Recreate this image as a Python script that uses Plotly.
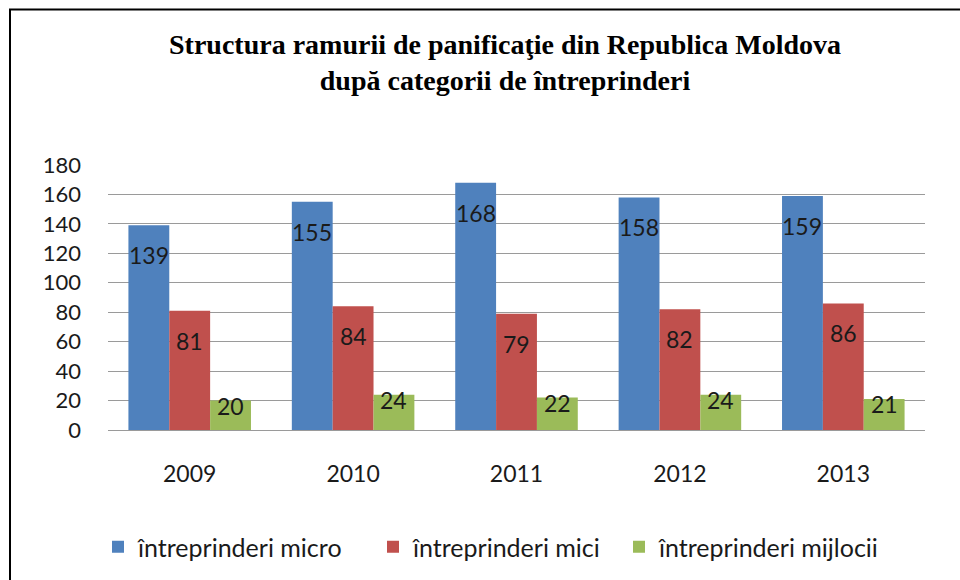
import plotly.graph_objects as go

years = ["2009", "2010", "2011", "2012", "2013"]
micro = [139, 155, 168, 158, 159]
mici = [81, 84, 79, 82, 86]
mijlocii = [20, 24, 22, 24, 21]
series_names = ["întreprinderi micro", "întreprinderi mici", "întreprinderi mijlocii"]
colors = ["#4F81BD", "#C0504D", "#9BBB59"]
y_ticks = [0, 20, 40, 60, 80, 100, 120, 140, 160, 180]

W, H = 960, 580
L, R, T, B = 108, 35, 165, 149
FONT = "Lato"
TXT = "#1a1a1a"

plot_h = H - T - B
plot_w = W - L - R

xpos = list(range(len(years)))
fig = go.Figure()
all_series = [micro, mici, mijlocii]
legend_ids = ["legend", "legend2", "legend3"]
legend_text_x = [132, 407, 653]
for name, vals, col, lg in zip(series_names, all_series, colors, legend_ids):
    fig.add_trace(go.Bar(x=xpos, y=vals, name=name, legend=lg,
                         marker=dict(color=col, line=dict(width=0))))

bar_w = 0.25
shifts = [-30, -30, -5]
for k, vals in enumerate(all_series):
    for i, v in enumerate(vals):
        fig.add_annotation(x=i + (k - 1) * bar_w, y=v, text=str(v), showarrow=False,
                           xref="x", yref="y", yshift=shifts[k],
                           font=dict(family=FONT, size=23, color=TXT))

legend_cfg = {}
for lg, tx in zip(legend_ids, legend_text_x):
    legend_cfg[lg] = dict(orientation="h", x=(tx - 34 - L) / plot_w, xanchor="left",
                          y=(H - B - 547) / plot_h, yanchor="middle",
                          font=dict(family=FONT, size=25, color=TXT),
                          bgcolor="rgba(0,0,0,0)")

fig.update_layout(
    width=W, height=H,
    margin=dict(l=L, r=R, t=T, b=B),
    paper_bgcolor="white", plot_bgcolor="white",
    barmode="group", bargap=0.25, bargroupgap=0,
    title=dict(text="Structura ramurii de panificaţie din Republica Moldova<br>după categorii de întreprinderi",
               x=505 / W, xanchor="center", y=1 - 54 / H, yanchor="middle",
               font=dict(family="Liberation Serif", size=28, color="black", weight="bold")),
    xaxis=dict(range=[-0.5, len(years) - 0.5], tickvals=xpos, ticktext=years,
               showgrid=False, zeroline=False, showline=False, ticks="",
               ticklabelstandoff=28,
               tickfont=dict(family=FONT, size=23, color=TXT)),
    yaxis=dict(range=[0, 180], tickvals=y_ticks, showgrid=True, gridcolor="#9a9a9a", gridwidth=1,
               zeroline=True, zerolinecolor="#9a9a9a", zerolinewidth=1, showline=False, ticks="",
               ticklabelstandoff=26,
               tickfont=dict(family=FONT, size=22, color=TXT)),
    showlegend=True,
    **legend_cfg,
)

# outer frame (top and left edges visible)
fig.add_shape(type="rect", xref="paper", yref="paper",
              x0=(10 - L) / plot_w, x1=(W + 40 - L) / plot_w,
              y0=(H - B - (H + 40)) / plot_h, y1=1 + (T - 9) / plot_h,
              line=dict(color="black", width=2), layer="below")

fig.write_html("out.html")
